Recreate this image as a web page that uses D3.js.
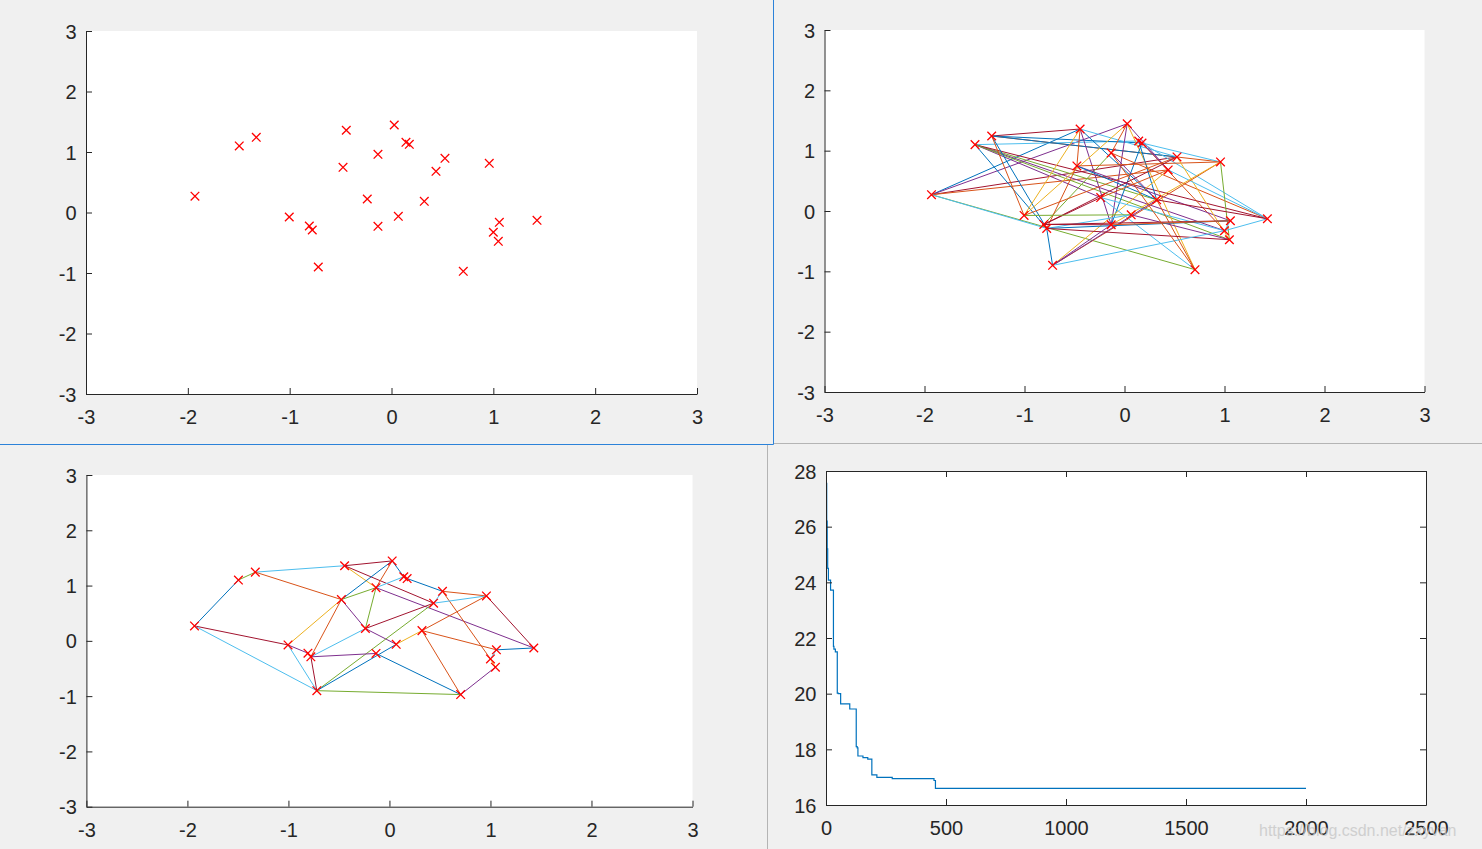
<!DOCTYPE html>
<html><head><meta charset="utf-8">
<script src="https://cdn.jsdelivr.net/npm/d3@7"></script>
<style>
body{margin:0;background:#f0f0f0;}
svg{display:block;font-family:"Liberation Sans",Arial,Helvetica,sans-serif;}
</style>
</head><body>
<svg id="c" width="1482" height="849"></svg>
<script>
// ---- data ----
const cityX = [-1.93,-1.495,-1.328,-0.444,0.027,0.142,0.175,-0.133,-0.476,0.525,0.437,0.960,-0.238,0.322,0.067,-1.004,-0.807,-0.778,-0.133,1.059,1.429,1.000,1.049,-0.719,0.705];
const cityY = [0.270,1.100,1.243,1.359,1.446,1.160,1.127,0.962,0.747,0.896,0.681,0.813,0.223,0.185,-0.063,-0.074,-0.223,-0.289,-0.228,-0.162,-0.129,-0.327,-0.476,-0.901,-0.972];
const xyTicks = [-3,-2,-1,0,1,2,3];
const colorOrder = ["#0072BD","#D95319","#EDB120","#7E2F8E","#77AC30","#4DBEEE","#A2142F"];
// edges: [cityA, cityB, colour index] (1-based cities)
const p2Edges = [
 [1,4,0],[1,5,3],[1,10,6],[1,11,1],[1,25,4],[1,18,5],
 [2,6,5],[2,18,0],[2,14,4],[2,22,3],[2,21,6],[2,13,3],[2,23,4],
 [3,4,6],[3,7,0],[3,12,1],[3,18,0],[3,16,1],[3,10,0],
 [4,10,5],[4,16,2],[4,19,3],[4,9,1],[4,14,0],
 [5,16,2],[5,19,3],[5,11,3],[5,25,2],[5,8,1],
 [6,14,0],[6,21,5],
 [7,19,0],[7,22,1],[7,12,5],[7,11,3],
 [8,21,1],[8,17,4],[8,14,3],
 [9,12,1],[9,18,1],[9,20,3],[9,14,0],
 [10,16,1],[10,23,2],[10,17,6],
 [11,21,5],[11,24,2],[11,13,1],
 [12,23,4],[12,24,1],[12,19,2],
 [13,17,6],[13,25,5],[13,22,5],
 [14,21,6],[14,24,3],[14,25,1],
 [15,16,4],[15,23,3],[15,18,5],
 [17,20,6],[17,19,6],
 [18,20,0],[18,23,6],[18,24,0],
 [19,24,3],[19,20,1],
 [20,22,5],[21,22,5],[22,24,5],[25,8,1]
];
const p3Edges = [
 [1,2,0],[2,3,4],[3,4,5],[4,5,6],[3,9,1],[4,8,2],[4,11,6],[5,9,0],[5,8,1],[5,6,0],[6,8,5],[7,10,0],[6,7,0],
 [9,8,4],[9,13,3],[9,16,2],[9,18,1],[8,13,4],[8,21,3],[13,11,6],[13,15,3],[13,18,5],
 [10,12,1],[10,11,5],[10,22,1],[11,12,5],[11,24,4],[12,21,6],[12,14,1],[14,15,2],[14,20,1],[14,25,1],
 [15,24,0],[19,25,0],[18,19,3],[1,16,6],[1,24,5],[16,17,3],[16,24,5],[18,24,6],[20,21,0],[20,22,5],[22,23,2],[23,25,3],[24,25,4]
];
const iterTicks = [0,500,1000,1500,2000,2500];
const costTicks = [16,18,20,22,24,26,28];
const iterBreaks = [1,3,5,7,10,19,31,33,39,47,51,61,99,126,130,133,154,174,191,212,276,450,456,2000];
const costBreaks = [27.56,26.2,25.2,24.5,24.08,23.72,21.7,21.6,21.5,20.02,20.0,19.63,19.45,18.1,18.05,17.76,17.7,17.65,17.08,16.99,16.95,16.88,16.6,16.6];

// ---- drawing ----
const svg = d3.select("#c");
svg.append("rect").attr("width",1482).attr("height",849).attr("fill","#f0f0f0");
const TXT = "#262626";
const fmt = d => (d<0?"-":"")+Math.abs(d);

function styleAxis(a){
  a.select(".domain").attr("stroke",TXT).attr("stroke-width",1);
  a.selectAll(".tick line").attr("stroke",TXT).attr("stroke-width",1);
  a.selectAll(".tick text").attr("fill",TXT).style("font-size","20px")
    .style("font-family",'"Liberation Sans",Arial,sans-serif');
}
function frame(x, y, xt, yt, box){
  const g = svg.append("g");
  const [x0,x1] = x.range(), [y0,y1] = y.range();
  g.append("rect").attr("x",x0).attr("y",y1).attr("width",x1-x0).attr("height",y0-y1).attr("fill","#fff");
  const plot = g.append("g");
  const ax = g.append("g").attr("transform",`translate(0,${y0})`)
    .call(d3.axisBottom(x).tickValues(xt).tickSizeInner(-6).tickSizeOuter(0).tickPadding(16).tickFormat(fmt));
  const ay = g.append("g").attr("transform",`translate(${x0},0)`)
    .call(d3.axisLeft(y).tickValues(yt).tickSizeInner(-6).tickSizeOuter(0).tickPadding(9.5).tickFormat(fmt));
  styleAxis(ax); styleAxis(ay);
  ay.selectAll(".tick text").attr("dy","0.35em");
  if(box){
    const at = g.append("g").attr("transform",`translate(0,${y1})`)
      .call(d3.axisTop(x).tickValues(xt).tickSizeInner(-6).tickSizeOuter(0).tickFormat(()=>""));
    const ar = g.append("g").attr("transform",`translate(${x1},0)`)
      .call(d3.axisRight(y).tickValues(yt).tickSizeInner(-6).tickSizeOuter(0).tickFormat(()=>""));
    styleAxis(at); styleAxis(ar);
  }
  return plot;
}

function markers(g, x, y){
  g.selectAll(null).data(cityX).join("path")
   .attr("d",(d,i)=>{const cx=x(d), cy=y(cityY[i]); return `M${cx-4.3},${cy-4.3}L${cx+4.3},${cy+4.3}M${cx-4.3},${cy+4.3}L${cx+4.3},${cy-4.3}`;})
   .attr("stroke","#ff0000").attr("stroke-width",1.3).attr("fill","none");
}
function edges(g, x, y, list){
  g.selectAll(null).data(list).join("line")
   .attr("x1",e=>x(cityX[e[0]-1])).attr("y1",e=>y(cityY[e[0]-1]))
   .attr("x2",e=>x(cityX[e[1]-1])).attr("y2",e=>y(cityY[e[1]-1]))
   .attr("stroke",e=>colorOrder[e[2]]).attr("stroke-width",1);
}

// panel 1
{
  const x = d3.scaleLinear([-3,3],[86,697]), y = d3.scaleLinear([-3,3],[394,31]);
  const g = frame(x,y,xyTicks,xyTicks,false);
  markers(g,x,y);
}
// panel 2
{
  const x = d3.scaleLinear([-3,3],[824.5,1424.5]), y = d3.scaleLinear([-3,3],[392,30]);
  const g = frame(x,y,xyTicks,xyTicks,false);
  edges(g,x,y,p2Edges); markers(g,x,y);
}
// panel 3
{
  const x = d3.scaleLinear([-3,3],[86.4,692.5]), y = d3.scaleLinear([-3,3],[806.7,475]);
  const g = frame(x,y,xyTicks,xyTicks,false);
  edges(g,x,y,p3Edges); markers(g,x,y);
}
// panel 4
{
  const x = d3.scaleLinear([0,2500],[826,1426]), y = d3.scaleLinear([16,28],[805,471]);
  const g = frame(x,y,iterTicks,costTicks,true);
  const line = d3.line().x(d=>x(d[0])).y(d=>y(d[1])).curve(d3.curveStepAfter);
  g.append("path").datum(iterBreaks.map((v,i)=>[v,costBreaks[i]]))
   .attr("d",line).attr("fill","none").attr("stroke","#0072BD").attr("stroke-width",1.2);
}
// window borders
svg.append("line").attr("x1",773).attr("y1",443.5).attr("x2",1482).attr("y2",443.5).attr("stroke","#b4b4b4");
svg.append("line").attr("x1",767.5).attr("y1",444).attr("x2",767.5).attr("y2",849).attr("stroke","#b4b4b4");
svg.append("line").attr("x1",0).attr("y1",444.5).attr("x2",773.5).attr("y2",444.5).attr("stroke","#2b82d9");
svg.append("line").attr("x1",773.5).attr("y1",0).attr("x2",773.5).attr("y2",444.5).attr("stroke","#2b82d9");
// watermark
svg.append("text").attr("x",1259).attr("y",836).attr("fill","#c8c8c8").attr("opacity",0.8)
  .style("font-size","16px").style("font-family",'"Liberation Sans",Arial,sans-serif')
  .text("https://blog.csdn.net/zxyvan");
</script>
</body></html>
